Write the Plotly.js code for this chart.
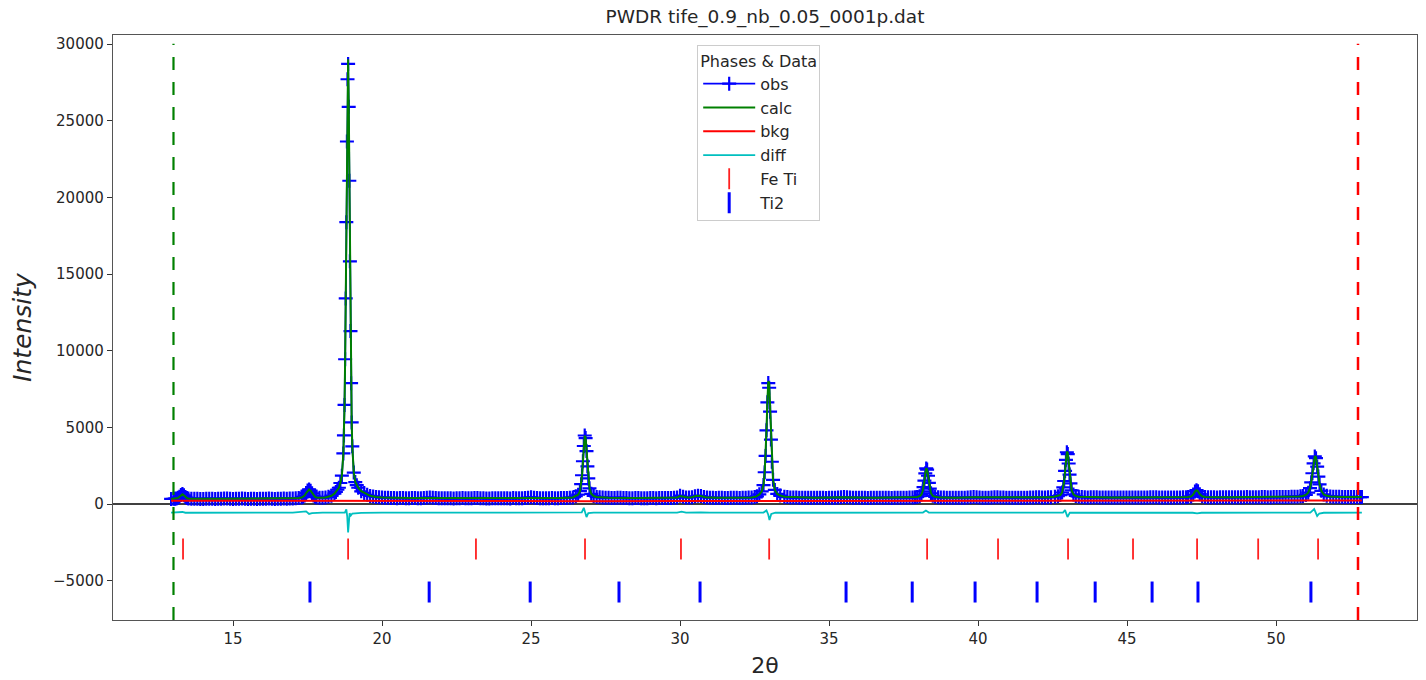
<!DOCTYPE html>
<html>
<head>
<meta charset="utf-8">
<script src="https://cdn.plot.ly/plotly-3.0.1.min.js"></script>
<style>html,body{margin:0;padding:0;background:#fff;}#chart{width:1426px;height:680px;}</style>
</head>
<body>
<div id="chart"></div>
<script>
// ---- observed profile (2θ, intensity) ----
const obsX = [
12.92,13.00,13.05,13.10,13.15,13.20,13.25,13.30,13.35,13.40,13.45,13.50,13.60,
13.70,13.80,13.90,14.00,14.10,14.20,14.30,14.40,14.50,14.60,14.70,14.80,14.90,15.00,15.10,15.20,15.30,15.40,15.50,15.60,15.70,15.80,15.90,16.00,16.10,16.20,16.30,16.40,16.50,16.60,16.70,16.80,16.90,17.00,17.10,17.20,
17.30,17.35,17.40,17.45,17.50,17.55,17.60,17.65,17.70,17.75,17.80,17.90,18.00,18.10,18.20,18.30,18.40,18.45,18.50,
18.55,18.60,18.65,18.70,18.72,18.74,18.76,18.78,18.80,18.82,18.84,18.86,18.88,18.90,18.92,18.94,18.96,18.98,19.00,19.05,19.10,19.15,19.20,19.30,19.40,19.50,19.60,
19.70,19.80,19.90,20.00,20.10,20.20,20.30,20.40,20.50,20.60,20.70,20.80,20.90,21.00,21.10,21.20,21.30,21.40,21.50,21.60,21.70,21.80,21.90,22.00,22.10,22.20,22.30,22.40,22.50,22.60,22.70,22.80,22.90,23.00,23.10,23.20,23.30,23.40,23.50,23.60,23.70,23.80,23.90,24.00,24.10,24.20,24.30,24.40,24.50,24.60,24.70,24.80,24.90,25.00,25.10,25.20,25.30,25.40,25.50,25.60,25.70,25.80,25.90,26.00,26.10,26.20,26.30,26.40,
26.50,26.58,26.64,26.68,26.71,26.74,26.77,26.80,26.83,26.86,26.89,26.92,26.96,27.02,27.10,27.20,
27.30,27.40,27.50,27.60,27.70,27.80,27.90,28.00,28.10,28.20,28.30,28.40,28.50,28.60,28.70,28.80,28.90,29.00,29.10,29.20,29.30,29.40,29.50,29.60,29.70,29.80,
29.90,30.00,30.10,30.20,30.30,30.40,30.50,30.60,30.70,30.80,30.90,
31.00,31.10,31.20,31.30,31.40,31.50,31.60,31.70,31.80,31.90,32.00,32.10,32.20,32.30,32.40,32.50,32.58,
32.66,32.74,32.80,32.84,32.87,32.90,32.93,32.96,32.99,33.02,33.05,33.08,33.12,33.18,33.26,33.36,
33.50,33.60,33.70,33.80,33.90,34.00,34.10,34.20,34.30,34.40,34.50,34.60,34.70,34.80,34.90,35.00,35.10,35.20,35.30,35.40,35.50,35.60,35.70,35.80,35.90,36.00,36.10,36.20,36.30,36.40,36.50,36.60,36.70,36.80,36.90,37.00,37.10,37.20,37.30,37.40,37.50,37.60,37.70,37.80,37.88,
37.96,38.04,38.10,38.14,38.17,38.20,38.23,38.26,38.29,38.32,38.35,38.38,38.42,38.48,38.56,38.66,
38.75,38.85,38.95,39.05,39.15,39.25,39.35,39.45,39.55,39.65,39.75,39.85,39.95,40.05,40.15,40.25,40.35,40.45,40.55,40.65,40.75,40.85,40.95,41.05,41.15,41.25,41.35,41.45,41.55,41.65,41.75,41.85,41.95,42.05,42.15,42.25,42.35,42.45,42.58,
42.68,42.76,42.82,42.86,42.89,42.92,42.95,42.98,43.01,43.04,43.07,43.10,43.14,43.20,43.28,43.38,
43.48,43.58,43.68,43.78,43.88,43.98,44.08,44.18,44.28,44.38,44.48,44.58,44.68,44.78,44.88,44.98,45.08,45.18,45.28,45.38,45.48,45.58,45.68,45.78,45.88,45.98,46.08,46.18,46.28,46.38,46.48,46.58,46.68,46.78,46.88,46.98,
47.05,47.15,47.22,47.28,47.33,47.38,47.44,47.52,47.62,
47.72,47.82,47.92,48.02,48.12,48.22,48.32,48.42,48.52,48.62,48.72,48.82,48.92,49.02,49.12,49.22,49.32,49.42,49.52,49.62,49.72,49.82,49.92,50.02,50.12,50.22,50.32,50.42,50.52,50.62,50.72,50.82,
50.90,51.00,51.08,51.14,51.18,51.22,51.26,51.30,51.34,51.38,51.42,51.46,51.52,51.60,51.70,51.82,
51.92,52.02,52.12,52.22,52.32,52.42,52.52,52.62,52.72,52.82,52.88
];
const obsY = [
330,335,345,365,400,470,580,650,570,460,395,365,345,
345,340,330,325,345,350,335,330,340,345,360,355,340,330,335,345,355,335,330,350,340,325,335,340,350,355,340,330,335,345,355,350,355,365,375,390,
420,470,560,720,880,950,870,700,550,465,425,400,405,425,470,540,680,790,930,
1060,1370,1850,3300,4470,6460,9440,13410,18380,23640,27700,28700,25900,21080,15830,11280,7880,5320,3760,2050,1430,1230,1060,830,720,600,530,
495,460,440,420,410,400,395,385,380,390,385,375,370,385,390,370,375,390,410,425,405,385,375,370,380,380,370,365,375,375,385,380,370,370,390,395,380,375,365,365,375,380,370,370,380,375,365,385,380,370,380,395,415,435,410,390,380,375,370,380,385,370,375,385,390,395,410,430,
505,608,837,1293,1874,2787,3783,4468,4302,3451,2455,1667,1023,662,521,463,
440,420,410,400,390,395,405,410,395,385,380,380,390,390,380,375,380,385,390,380,385,390,395,385,390,400,
430,540,470,430,425,440,500,545,520,460,430,
410,400,395,405,400,395,390,400,405,400,395,405,410,420,430,455,500,
628,818,1236,2072,3136,4808,6632,7886,7582,6024,4200,2756,1578,917,658,552,
470,450,430,425,420,410,405,410,415,405,400,405,410,400,395,400,405,410,420,435,450,440,420,405,400,405,410,400,395,400,405,400,400,405,410,400,395,400,405,410,415,415,420,430,445,
459,507,615,829,1102,1531,1999,2321,2243,1843,1375,1005,702,533,466,439,
425,420,410,410,415,415,405,405,415,425,445,450,435,425,410,410,415,420,435,440,425,420,410,410,405,405,415,415,410,410,420,430,440,435,425,425,435,445,475,
510,585,750,1080,1500,2160,2880,3375,3255,2640,1920,1350,885,624,522,480,
455,445,430,435,440,435,425,425,420,425,430,425,420,420,425,430,430,425,420,420,425,430,430,440,445,435,425,420,420,425,430,430,425,430,435,445,
455,495,620,820,900,830,640,500,455,
445,440,435,430,435,440,440,435,440,445,445,440,445,450,445,440,440,445,450,450,445,445,450,450,455,455,460,460,465,470,480,500,
521,589,737,1034,1412,2006,2654,3100,2992,2438,1790,1277,858,624,532,494,
480,470,465,460,455,455,460,460,455,450,450
];

// ---- calculated profile ----
const calcX = [
12.92,13.10,13.15,13.20,13.25,13.30,13.35,13.40,13.45,13.50,13.60,14.5,15.5,16.5,17.0,17.20,
17.30,17.35,17.40,17.45,17.50,17.55,17.60,17.65,17.70,17.75,17.80,17.90,18.00,18.10,18.20,18.30,18.40,18.45,18.50,
18.55,18.60,18.65,18.70,18.72,18.74,18.76,18.78,18.80,18.82,18.84,18.86,18.88,18.90,18.92,18.94,18.96,18.98,19.00,19.05,19.10,19.15,19.20,19.30,19.40,19.50,19.60,
19.80,20.00,21.00,22.00,23.00,24.00,25.00,26.00,26.40,
26.50,26.58,26.64,26.68,26.71,26.74,26.77,26.80,26.83,26.86,26.89,26.92,26.96,27.02,27.10,27.20,
27.60,28.5,29.5,29.90,30.00,30.10,30.25,30.40,30.55,30.70,30.85,31.20,32.00,32.40,32.55,
32.66,32.74,32.80,32.84,32.87,32.90,32.93,32.96,32.99,33.02,33.05,33.08,33.12,33.18,33.26,33.36,
33.50,34.5,35.50,36.5,37.5,37.85,
37.96,38.04,38.10,38.14,38.17,38.20,38.23,38.26,38.29,38.32,38.35,38.38,38.42,38.48,38.56,38.66,
39.2,39.80,40.60,41.5,42.40,42.55,
42.68,42.76,42.82,42.86,42.89,42.92,42.95,42.98,43.01,43.04,43.07,43.10,43.14,43.20,43.28,43.38,
44.5,45.9,46.9,
47.05,47.15,47.22,47.28,47.33,47.38,47.44,47.52,47.62,
48.5,49.5,50.40,50.78,
50.90,51.00,51.08,51.14,51.18,51.22,51.26,51.30,51.34,51.38,51.42,51.46,51.52,51.60,51.70,51.82,
52.2,52.88
];
const calcY = [
325,360,398,472,575,640,565,458,392,362,342,338,338,340,355,385,
418,468,556,712,872,945,865,705,552,468,428,402,404,424,468,538,675,785,925,
1055,1360,1840,3280,4450,6440,9420,13380,18500,24000,28200,29000,26300,21300,15900,11300,7920,5350,3780,2060,1435,1232,1062,832,720,602,532,
458,420,385,378,375,375,390,385,428,
503,606,835,1290,1860,2760,3720,4460,4340,3500,2470,1672,1025,662,521,463,
405,388,388,430,520,465,420,440,530,515,440,400,400,428,478,
626,815,1232,2065,3130,4820,6680,8000,7900,6200,4260,2770,1582,918,658,552,
470,410,445,405,412,440,
459,507,614,826,1096,1520,1990,2330,2255,1850,1378,1006,702,533,466,439,
415,445,435,412,438,468,
509,583,746,1072,1490,2150,2880,3420,3330,2700,1945,1358,887,625,522,480,
428,435,433,
455,495,618,815,898,830,642,500,455,
440,447,458,490,
520,588,735,1030,1400,1990,2640,3130,3060,2500,1815,1285,860,624,532,494,
462,452
];

// ---- background ----
const bkgX = [12.92,15,18,21,24,27,30,33,36,39,42,45,48,51,52.88];
const bkgY = [210,200,195,190,185,185,190,195,200,205,210,215,220,225,225];

// ---- difference curve (offset) ----
const diffX = [12.92,13.2,13.3,13.4,14.0,17.0,17.45,17.55,17.65,18.0,18.5,18.75,18.80,18.83,18.86,18.88,18.91,18.95,19.0,19.3,20.0,24.0,
26.70,26.77,26.82,26.86,26.92,27.1,29.9,30.05,30.2,30.55,30.7,31.0,32.8,32.90,32.96,33.00,33.06,33.2,35.5,
38.15,38.25,38.35,40.0,42.85,42.92,43.0,43.08,43.2,47.2,47.35,47.5,51.15,51.28,51.38,51.45,51.6,52.88];
const diffY = [-560,-560,-520,-570,-560,-560,-480,-650,-600,-560,-560,-560,-350,-800,-1850,-1300,-600,-750,-620,-580,-560,-560,
-540,-250,-520,-850,-600,-560,-560,-500,-560,-520,-540,-560,-560,-420,-700,-1050,-650,-570,-560,
-560,-430,-560,-560,-560,-400,-850,-560,-570,-570,-610,-570,-560,-330,-780,-620,-570,-560];

// ---- reflection positions ----
const feTiPos = [13.32,18.86,23.15,26.81,30.03,32.99,38.29,40.67,43.02,45.20,47.35,49.40,51.41];
const ti2Pos  = [17.58,21.58,24.97,27.95,30.67,35.57,37.79,39.90,41.98,43.93,45.84,47.38,51.17];
const feTiLevel = -2935;
const ti2Level  = -5740;

// ---- limits ----
const lowLimit = 13.0;
const highLimit = 52.75;

const traces = [
  {x: obsX, y: obsY, name: 'obs', type: 'scatter', mode: 'lines+markers',
   line: {color: '#0000ff', width: 1.8},
   marker: {symbol: 'cross-thin', size: 10, color: '#0000ff', line: {color: '#0000ff', width: 2.2}}},
  {x: calcX, y: calcY, name: 'calc', type: 'scatter', mode: 'lines',
   line: {color: '#008000', width: 2}},
  {x: bkgX, y: bkgY, name: 'bkg', type: 'scatter', mode: 'lines',
   line: {color: '#ff0000', width: 2}},
  {x: diffX, y: diffY, name: 'diff', type: 'scatter', mode: 'lines',
   line: {color: '#00bfbf', width: 1.8}},
  {x: feTiPos, y: feTiPos.map(() => feTiLevel), name: 'Fe Ti', type: 'scatter', mode: 'markers',
   marker: {symbol: 'line-ns', size: 15, color: '#ff2020', line: {color: '#ff2020', width: 1.8}}},
  {x: ti2Pos, y: ti2Pos.map(() => ti2Level), name: 'Ti2', type: 'scatter', mode: 'markers',
   marker: {symbol: 'line-ns', size: 15, color: '#0000ff', line: {color: '#0000ff', width: 3}}}
];

const font = 'DejaVu Sans, sans-serif';
const layout = {
  width: 1426, height: 680,
  margin: {l: 113, r: 9, t: 35, b: 60},
  paper_bgcolor: '#ffffff', plot_bgcolor: '#ffffff',
  font: {family: font, color: '#262626'},
  title: {text: 'PWDR tife_0.9_nb_0.05_0001p.dat', font: {family: font, size: 18.5, color: '#262626'},
          x: 0.5, xref: 'paper', y: 0.975, yref: 'container', yanchor: 'middle'},
  showlegend: true,
  legend: {x: 0.448, y: 0.983, xanchor: 'left', yanchor: 'top',
           bgcolor: 'rgba(255,255,255,0.9)', bordercolor: '#cccccc', borderwidth: 1,
           font: {family: font, size: 16, color: '#262626'}, itemwidth: 52,
           title: {text: 'Phases & Data', side: 'top center', font: {family: font, size: 16, color: '#262626'}},
           tracegroupgap: 0},
  xaxis: {range: [10.97, 54.73], tick0: 0, dtick: 5, ticks: 'outside', ticklen: 5, tickcolor: '#333',
          showgrid: false, zeroline: false, showline: true, mirror: true, linecolor: '#555', linewidth: 1.2,
          tickfont: {family: font, size: 15, color: '#262626'},
          title: {text: '2θ', font: {family: font, size: 22, color: '#262626'}, standoff: 10}},
  yaxis: {range: [-7565, 30587], tickvals: [-5000,0,5000,10000,15000,20000,25000,30000], tickformat: 'd',
          ticks: 'outside', ticklen: 5, tickcolor: '#333',
          showgrid: false, zeroline: false, showline: true, mirror: true, linecolor: '#555', linewidth: 1.2,
          tickfont: {family: font, size: 15, color: '#262626'},
          title: {text: '<i>Intensity</i>', font: {family: font, size: 25, color: '#262626'}, standoff: 14}},
  shapes: [
    {type: 'line', xref: 'paper', x0: 0, x1: 1, yref: 'y', y0: 0, y1: 0, layer: 'below',
     line: {color: '#000000', width: 1.5}},
    {type: 'line', xref: 'x', x0: lowLimit, x1: lowLimit, yref: 'paper', y0: 0, y1: 0.985,
     line: {color: '#008000', width: 2.2, dash: '13px,12px'}},
    {type: 'line', xref: 'x', x0: highLimit, x1: highLimit, yref: 'paper', y0: 0, y1: 0.985,
     line: {color: '#ff0000', width: 2.5, dash: '13px,12px'}}
  ]
};

traces.forEach((t, i) => { t.legendgroup = 'g' + i; });
Plotly.newPlot('chart', traces, layout, {displayModeBar: false, staticPlot: true});
</script>
</body>
</html>
